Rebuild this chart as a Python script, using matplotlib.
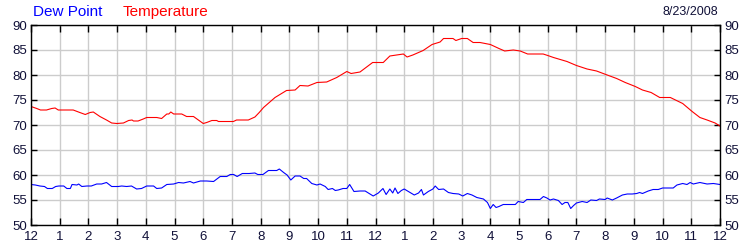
import numpy as np
import matplotlib.pyplot as plt

plt.rcParams['font.family'] = ['Liberation Sans', 'DejaVu Sans']

# Temperature (hours since midnight, degrees F)
temp_hours = [0, 0.2, 0.33, 0.54, 0.72, 0.84, 0.95, 1.47, 1.7, 1.89, 2.06, 2.17, 2.4, 2.63,
              2.81, 2.99, 3.22, 3.4, 3.52, 3.57, 3.73, 3.91, 4.03, 4.38, 4.55, 4.73, 4.8,
              4.87, 4.97, 5.25, 5.42, 5.66, 6.0, 6.12, 6.3, 6.47, 6.53, 7.05, 7.16, 7.57,
              7.8, 7.95, 8.1, 8.3, 8.5, 8.9, 9.2, 9.37, 9.65, 9.96, 10.3, 10.65, 11.0,
              11.15, 11.46, 11.9, 12.27, 12.5, 12.97, 13.1, 13.3, 13.66, 13.97, 14.25,
              14.37, 14.7, 14.8, 15.0, 15.2, 15.4, 15.64, 16.0, 16.3, 16.5, 16.8, 17.04,
              17.3, 17.84, 18.0, 18.2, 18.67, 19.0, 19.37, 19.7, 20.07, 20.4, 20.7, 21.05,
              21.3, 21.6, 21.9, 22.27, 22.7, 23.03, 23.3, 23.55, 23.83, 24.0]
temp_vals = [73.7, 73.3, 73.0, 73.0, 73.3, 73.4, 73.0, 73.0, 72.5, 72.1, 72.5, 72.6, 71.7, 71.0,
             70.4, 70.3, 70.4, 70.9, 71.0, 70.8, 70.8, 71.2, 71.5, 71.5, 71.3, 72.2, 72.2,
             72.6, 72.2, 72.2, 71.7, 71.7, 70.3, 70.5, 70.9, 70.9, 70.7, 70.7, 71.0, 71.0,
             71.6, 72.5, 73.5, 74.5, 75.5, 76.9, 77.0, 77.9, 77.8, 78.5, 78.6, 79.5, 80.7,
             80.3, 80.6, 82.5, 82.5, 83.8, 84.2, 83.6, 84.0, 84.9, 86.1, 86.6,
             87.3, 87.3, 86.9, 87.3, 87.3, 86.5, 86.5, 86.1, 85.3, 84.8, 85.0, 84.8,
             84.2, 84.2, 83.9, 83.5, 82.7, 81.9, 81.2, 80.8, 80.0, 79.3, 78.5, 77.7,
             77.0, 76.5, 75.5, 75.5, 74.3, 72.7, 71.5, 71.0, 70.4, 69.8]

# Dew point
dew_hours = [0, 0.15, 0.31, 0.47, 0.57, 0.74, 0.86, 0.97, 1.14, 1.25, 1.37, 1.43, 1.6, 1.66,
             1.77, 1.95, 2.1, 2.29, 2.46, 2.63, 2.81, 3.04, 3.16, 3.33, 3.5, 3.68, 3.85,
             4.03, 4.27, 4.38, 4.55, 4.73, 4.97, 5.14, 5.31, 5.54, 5.66, 5.9, 6.12, 6.36,
             6.59, 6.82, 6.94, 7.06, 7.18, 7.36, 7.6, 7.8, 7.9, 8.08, 8.27, 8.56, 8.65,
             8.8, 8.92, 9.05, 9.2, 9.37, 9.5, 9.6, 9.78, 9.96, 10.07, 10.25, 10.35, 10.5,
             10.6, 10.7, 10.87, 11.0, 11.1, 11.25, 11.46, 11.64, 11.92, 12.1, 12.26, 12.37,
             12.5, 12.6, 12.68, 12.78, 12.9, 13.0, 13.2, 13.35, 13.5, 13.6, 13.67, 13.84,
             14.0, 14.08, 14.2, 14.37, 14.54, 14.7, 14.9, 15.04, 15.2, 15.36, 15.53, 15.76,
             15.9, 16.0, 16.1, 16.2, 16.3, 16.45, 16.87, 16.97, 17.15, 17.27, 17.73, 17.85,
             17.97, 18.08, 18.2, 18.37, 18.5, 18.6, 18.7, 18.8, 18.9, 19.0, 19.2, 19.37,
             19.5, 19.7, 19.8, 20.0, 20.07, 20.25, 20.4, 20.6, 20.77, 20.94, 21.1, 21.2,
             21.3, 21.5, 21.67, 21.85, 21.95, 22.0, 22.37, 22.5, 22.7, 22.85, 22.96, 23.07,
             23.3, 23.55, 23.77, 24.0]
dew_vals = [58.1, 58.0, 57.8, 57.7, 57.3, 57.3, 57.7, 57.8, 57.8, 57.3, 57.3, 58.1, 58.0, 58.2,
            57.7, 57.8, 57.8, 58.2, 58.2, 58.5, 57.7, 57.7, 57.8, 57.7, 57.8, 57.2, 57.3,
            57.8, 57.8, 57.3, 57.4, 58.1, 58.2, 58.5, 58.4, 58.7, 58.4, 58.8, 58.8, 58.7,
            59.7, 59.7, 60.1, 60.1, 59.7, 60.3, 60.3, 60.4, 60.1, 60.1, 60.9, 60.9, 61.2,
            60.5, 60.0, 59.0, 59.8, 59.8, 59.3, 59.3, 58.3, 58.0, 58.2, 57.7, 57.1, 57.3,
            56.9, 57.0, 57.3, 57.3, 58.1, 56.7, 56.8, 56.8, 55.8, 56.4, 57.3, 56.1,
            57.2, 56.4, 57.4, 56.3, 56.9, 57.2, 56.5, 56.0, 56.4, 57.1, 56.0, 56.7,
            57.2, 57.8, 57.1, 57.2, 56.5, 56.3, 56.2, 55.8, 56.3, 56.0, 55.5, 55.2,
            54.5, 53.3, 54.1, 53.5, 53.7, 54.1, 54.1, 54.7, 54.5, 55.1, 55.1, 55.7,
            55.4, 55.0, 55.2, 54.9, 54.1, 54.5, 54.5, 53.3, 53.9, 54.4, 54.7, 54.5,
            55.0, 54.9, 55.2, 55.1, 55.4, 55.0, 55.4, 56.0, 56.2, 56.2, 56.3, 56.5,
            56.3, 56.8, 57.1, 57.1, 57.3, 57.4, 57.4, 58.0, 58.3, 58.1, 58.5, 58.2,
            58.5, 58.2, 58.3, 58.1]

hour_labels = ['12', '1', '2', '3', '4', '5', '6', '7', '8', '9', '10', '11',
               '12', '1', '2', '3', '4', '5', '6', '7', '8', '9', '10', '11', '12']
y_ticks = [50, 55, 60, 65, 70, 75, 80, 85, 90]
date_text = '8/23/2008'

label_color = '#101038'

fig = plt.figure(figsize=(7.5, 2.5), dpi=100)
ax = fig.add_axes([31 / 750, 25 / 250, 689 / 750, 200 / 250])

ax.plot(temp_hours, temp_vals, color='#ff0000', lw=0.8)
ax.plot(dew_hours, dew_vals, color='#0000ff', lw=0.8)

ax.set_xlim(0, 24)
ax.set_ylim(50, 90)
ax.set_xticks(range(25))
ax.set_xticklabels(hour_labels)
ax.set_yticks(y_ticks)
ax.grid(True, color='#cccccc', lw=1)
ax.set_axisbelow(True)

ax.tick_params(axis='x', direction='in', length=5, width=1, top=True, bottom=True,
               labelsize=9.5, labelcolor=label_color, pad=4)
ax.tick_params(axis='y', direction='in', length=4, width=1, left=True, right=True,
               labelleft=True, labelright=True, labelsize=9.5, labelcolor=label_color, pad=3)
for s in ax.spines.values():
    s.set_color('black')
    s.set_linewidth(1)

fig.text(33 / 750, 1 - 12 / 250, 'Dew Point', color='#0000ff', fontsize=11, va='center')
fig.text(123 / 750, 1 - 12 / 250, 'Temperature', color='#ff0000', fontsize=11, va='center')
fig.text(718 / 750, 1 - 12 / 250, date_text, color=label_color, fontsize=9, va='center', ha='right')

fig.savefig('out.png', dpi=100)
